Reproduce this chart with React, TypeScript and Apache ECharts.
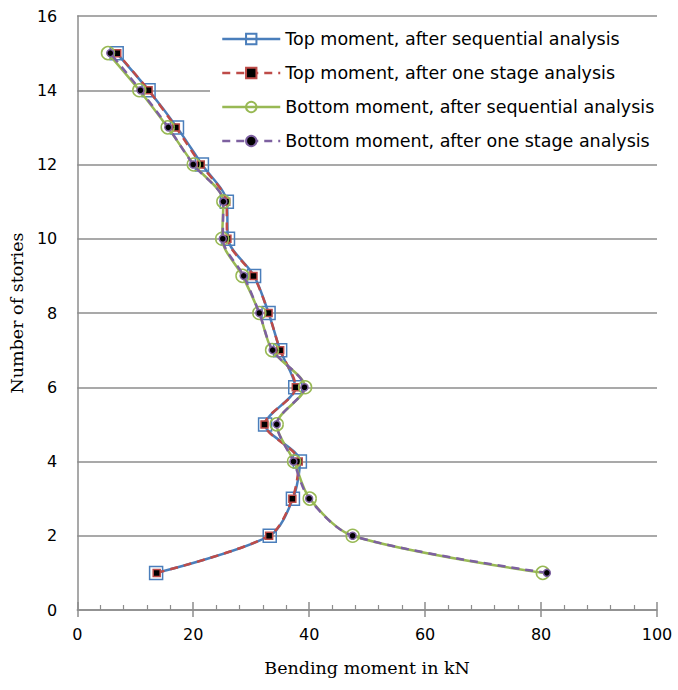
import React, { useEffect, useRef } from "react";
import * as echarts from "echarts";

const stories = [1, 2, 3, 4, 5, 6, 7, 8, 9, 10, 11, 12, 13, 14, 15];
const topSequential = [13.6, 33.2, 37.2, 38.4, 32.4, 37.6, 35.0, 33.0, 30.5, 26.0, 25.8, 21.5, 17.2, 12.3, 6.8];
const topOneStage = [13.7, 33.1, 37.1, 38.2, 32.3, 37.7, 35.0, 33.0, 30.4, 25.9, 25.7, 21.3, 17.0, 12.3, 6.9];
const bottomSequential = [80.3, 47.5, 40.1, 37.4, 34.4, 39.3, 33.6, 31.4, 28.5, 25.0, 25.2, 20.1, 15.6, 10.7, 5.3];
const bottomOneStage = [81.0, 47.5, 40.0, 37.3, 34.4, 39.2, 33.7, 31.4, 28.7, 25.1, 25.2, 20.0, 15.7, 10.9, 5.7];
const seriesNames = [
  "Top moment, after sequential analysis",
  "Top moment, after one stage analysis",
  "Bottom moment, after sequential analysis",
  "Bottom moment, after one stage analysis",
];

const pairs = (vals: number[]) => vals.map((v, i) => [v, stories[i]]);

export default function App() {
  const ref = useRef<HTMLDivElement>(null);
  useEffect(() => {
    if (!ref.current) return;
    const chart = echarts.init(ref.current, null, { renderer: "svg" });
    const sans = "DejaVu Sans";
    const serif = "DejaVu Serif";
    chart.setOption({
      animation: false,
      backgroundColor: "#fff",
      grid: { left: 77, right: 21, top: 16, bottom: 80, containLabel: false },
      legend: {
        orient: "vertical",
        left: 210,
        top: 24,
        itemWidth: 58,
        itemHeight: 13,
        itemGap: 16,
        backgroundColor: "#fff",
        padding: [6, 6, 6, 11],
        lineStyle: { width: 2.5 },
        textStyle: { fontFamily: sans, fontSize: 17.5, color: "#000" },
        data: seriesNames,
      },
      xAxis: [
        {
          type: "value",
          min: 0,
          max: 100,
          interval: 20,
          name: "Bending moment in kN",
          nameLocation: "middle",
          nameGap: 49,
          nameTextStyle: { fontFamily: serif, fontSize: 17.5, color: "#000" },
          axisLine: { show: true, lineStyle: { color: "#8c8c8c", width: 1.5 } },
          axisTick: { show: true, inside: false, length: 7, lineStyle: { color: "#8c8c8c", width: 1.5 } },
          axisLabel: { fontFamily: sans, fontSize: 16, color: "#000", margin: 16 },
          splitLine: { show: false },
        },
        {
          type: "value",
          position: "bottom",
          min: 0,
          max: 100,
          interval: 20,
          axisLine: { show: false },
          axisTick: { show: true, inside: true, length: 8, lineStyle: { color: "#8c8c8c", width: 1.5 } },
          minorTick: { show: true, splitNumber: 5, length: 5, lineStyle: { color: "#8c8c8c", width: 1.2 } },
          axisLabel: { show: false },
          splitLine: { show: false },
        },
      ],
      yAxis: {
        type: "value",
        min: 0,
        max: 16,
        interval: 2,
        name: "Number of stories",
        nameLocation: "middle",
        nameGap: 48,
        nameTextStyle: { fontFamily: serif, fontSize: 17.5, color: "#000" },
        axisLine: { show: true, lineStyle: { color: "#8c8c8c", width: 1.5 } },
        axisTick: { show: false },
        axisLabel: { fontFamily: sans, fontSize: 16, color: "#000", margin: 20 },
        splitLine: { show: true, lineStyle: { color: "#8c8c8c", width: 1.5 } },
      },
      series: [
        {
          name: seriesNames[0],
          type: "line",
          data: pairs(topSequential),
          smooth: 0.3,
          symbol: "rect",
          symbolSize: 13,
          lineStyle: { color: "#4a7ebb", width: 2.5 },
          itemStyle: { color: "rgba(255,255,255,0)", borderColor: "#4a7ebb", borderWidth: 1.5 },
          z: 2,
        },
        {
          name: seriesNames[1],
          type: "line",
          data: pairs(topOneStage),
          smooth: 0.3,
          symbol: "rect",
          symbolSize: 7,
          lineStyle: { color: "#be4b48", width: 2.5, type: [8, 6] },
          itemStyle: { color: "#000", borderColor: "#be4b48", borderWidth: 1.5 },
          z: 3,
        },
        {
          name: seriesNames[2],
          type: "line",
          data: pairs(bottomSequential),
          smooth: 0.3,
          symbol: "circle",
          symbolSize: 13,
          lineStyle: { color: "#98b954", width: 2.5 },
          itemStyle: { color: "rgba(255,255,255,0)", borderColor: "#98b954", borderWidth: 1.5 },
          z: 4,
        },
        {
          name: seriesNames[3],
          type: "line",
          data: pairs(bottomOneStage),
          smooth: 0.3,
          symbol: "circle",
          symbolSize: 7,
          lineStyle: { color: "#7d60a0", width: 2.5, type: [8, 6] },
          itemStyle: { color: "#000", borderColor: "#7d60a0", borderWidth: 1.5 },
          z: 5,
        },
      ],
    });
    return () => chart.dispose();
  }, []);
  return <div ref={ref} style={{ width: 678, height: 690, position: "absolute", left: 0, top: 0 }} />;
}
